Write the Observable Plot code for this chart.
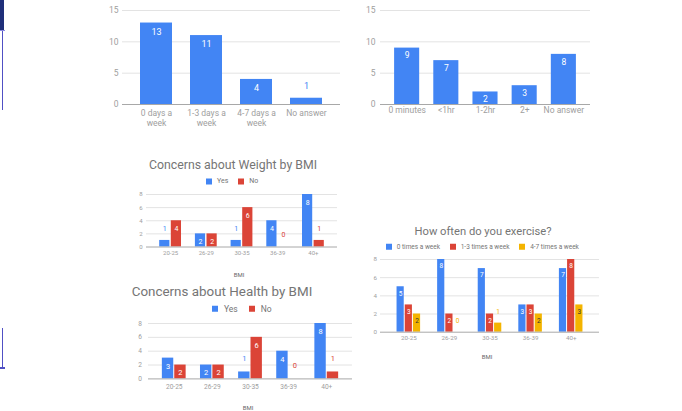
<!DOCTYPE html>
<html><head><meta charset="utf-8">
<script src="https://cdn.jsdelivr.net/npm/d3@7"></script>
<script src="https://cdn.jsdelivr.net/npm/@observablehq/plot@0.6"></script>
<style>
html,body{margin:0;padding:0;background:#fff;}
#page{position:relative;width:682px;height:411px;overflow:hidden;font-family:Roboto,"Liberation Sans",sans-serif;}
.abs{position:absolute;white-space:nowrap;transform:translate(-50%,-50%);line-height:1;}
.chart{position:absolute;}
.chart svg{overflow:visible;}
.leg{position:absolute;display:flex;align-items:center;white-space:nowrap;transform:translateY(-50%);line-height:1;color:#757575;}
.leg .sq{display:inline-block;width:6px;height:6px;}
.deco{position:absolute;}
</style></head><body><div id="page"></div>
<script>
// ---------- data ----------
const daysCategories = ["0 days a\nweek", "1-3 days a\nweek", "4-7 days a\nweek", "No answer"];
const daysValues = [13, 11, 4, 1];
const timeCategories = ["0 minutes", "<1hr", "1-2hr", "2+", "No answer"];
const timeValues = [9, 7, 2, 3, 8];
const bmiGroups = ["20-25", "26-29", "30-35", "36-39", "40+"];
const weightYes = [1, 2, 1, 4, 8];
const weightNo = [4, 2, 6, 0, 1];
const healthYes = [3, 2, 1, 4, 8];
const healthNo = [2, 2, 6, 0, 1];
const exercise0 = [5, 8, 7, 3, 7];
const exercise13 = [3, 2, 2, 3, 8];
const exercise47 = [2, 0, 1, 2, 3];
const overviewTicks = [0, 5, 10, 15];
const bmiTicks = [0, 2, 4, 6, 8];
const yesNoNames = ["Yes", "No"];
const exerciseNames = ["0 times a week", "1-3 times a week", "4-7 times a week"];

const BLUE = "#4285F4", RED = "#DB4437", YELLOW = "#F4B400";
const TICK = "#9e9e9e";
const page = document.getElementById("page");

function chart(cfg) {
  const mL = 30, mR = 10, mT = 10, mB = 30;
  const {frame, categories, series, domain, ticks, padding} = cfg;
  const W = frame.x1 - frame.x0, H = frame.y1 - frame.y0;
  const n = categories.length, k = series.length;
  const step = W / (n + padding), bw = step * (1 - padding), slot = bw / k;
  const gap = k > 1 ? cfg.gap : 0;
  const marks = [];
  marks.push(Plot.ruleY(ticks.filter(t => t !== 0), {stroke: "#e3e3e3", strokeWidth: 1}));
  series.forEach((s, i) => {
    const rows = categories.map((c, j) => ({cat: c, value: s.values[j]}));
    marks.push(Plot.barY(rows, {
      x: "cat", y: "value", fill: s.color,
      insetLeft: i * slot + gap / 2, insetRight: (k - 1 - i) * slot + gap / 2
    }));
  });
  marks.push(Plot.ruleY([0], {stroke: "#a8a8a8", strokeWidth: 1}));
  series.forEach((s, i) => {
    const rows = categories.map((c, j) => ({cat: c, value: s.values[j]}));
    const dx = (i - (k - 1) / 2) * slot;
    marks.push(Plot.text(rows.filter(r => r.value >= 2), {
      x: "cat", y: "value", text: r => String(r.value), dx, dy: cfg.inDy,
      fill: s.inside, fontSize: cfg.labelFont
    }));
    marks.push(Plot.text(rows.filter(r => r.value < 2), {
      x: "cat", y: "value", text: r => String(r.value), dx, dy: -cfg.outDy,
      fill: s.color, fontSize: cfg.labelFont
    }));
  });
  marks.push(Plot.text(ticks, {
    y: d => d, text: d => String(d), frameAnchor: "left", dx: -cfg.yPad,
    textAnchor: "end", fill: TICK, fontSize: cfg.tickFont
  }));
  const maxLines = d3.max(categories, c => c.split("\n").length);
  for (let L = 0; L < maxLines; L++) {
    marks.push(Plot.text(categories.filter(c => c.split("\n").length > L), {
      x: d => d, text: d => d.split("\n")[L], frameAnchor: "bottom",
      dy: cfg.xDy + L * (cfg.xLineGap || 0), fill: TICK, fontSize: cfg.tickFont
    }));
  }
  const svg = Plot.plot({
    width: W + mL + mR, height: H + mT + mB,
    marginLeft: mL, marginRight: mR, marginTop: mT, marginBottom: mB,
    style: {fontFamily: "Roboto, sans-serif", background: "transparent", overflow: "visible"},
    x: {domain: categories, padding, align: 0.5, round: false, axis: null},
    y: {domain, axis: null},
    marks
  });
  const div = document.createElement("div");
  div.className = "chart";
  div.style.left = (frame.x0 - mL) + "px";
  div.style.top = (frame.y0 - mT) + "px";
  div.appendChild(svg);
  page.appendChild(div);
}

function label(text, x, y, size, color) {
  const d = document.createElement("div");
  d.className = "abs";
  d.textContent = text;
  d.style.left = x + "px"; d.style.top = y + "px";
  d.style.fontSize = size + "px"; d.style.color = color;
  page.appendChild(d);
}

function legend(items, x, y, size, textGap, itemGap) {
  const d = document.createElement("div");
  d.className = "leg";
  d.style.left = x + "px"; d.style.top = y + "px"; d.style.fontSize = size + "px";
  items.forEach((it, i) => {
    const sq = document.createElement("span");
    sq.className = "sq"; sq.style.background = it.color;
    if (i > 0) sq.style.marginLeft = itemGap + "px";
    const t = document.createElement("span");
    t.textContent = it.name; t.style.marginLeft = textGap + "px";
    d.appendChild(sq); d.appendChild(t);
  });
  page.appendChild(d);
}

function deco(l, t, w, h, c) {
  const d = document.createElement("div");
  d.className = "deco";
  Object.assign(d.style, {left: l + "px", top: t + "px", width: w + "px", height: h + "px", background: c});
  page.appendChild(d);
}

// ---------- screenshot edge decorations ----------
deco(0, 0, 4, 30, "#1f2f7a");
deco(1.5, 30, 1.5, 80, "#5050c4");
deco(0, 29.5, 5, 1.5, "#8a8ae0");
deco(1.5, 328, 1.5, 40, "#5050c4");
deco(0, 367, 5, 1.5, "#5050c4");

// ---------- chart 1: days ----------
chart({
  frame: {x0: 122, x1: 340, y0: 10, y1: 104}, categories: daysCategories,
  series: [{values: daysValues, color: BLUE, inside: "#fff"}],
  domain: [0, 15], ticks: overviewTicks, padding: 0.36,
  tickFont: 8.5, yPad: 4, xDy: 11, xLineGap: 10.7, labelFont: 9, inDy: 9, outDy: 12.5
});

// ---------- chart 2: time ----------
chart({
  frame: {x0: 380, x1: 590, y0: 10, y1: 104}, categories: timeCategories,
  series: [{values: timeValues, color: BLUE, inside: "#fff"}],
  domain: [0, 15], ticks: overviewTicks, padding: 0.36,
  tickFont: 8.5, yPad: 5, xDy: 8.7, labelFont: 8.5, inDy: 7.5, outDy: 12
});

// ---------- chart 3: weight by BMI ----------
label("Concerns about Weight by BMI", 233, 165, 12.3, "#757575");
legend(yesNoNames.map((n, i) => ({name: n, color: [BLUE, RED][i]})), 206, 181, 7, 5, 10);
chart({
  frame: {x0: 146, x1: 337, y0: 194, y1: 246.5}, categories: bmiGroups,
  series: [{values: weightYes, color: BLUE, inside: "#fff"}, {values: weightNo, color: RED, inside: "#fff"}],
  domain: [0, 8], ticks: bmiTicks, padding: 0.35, gap: 1.4,
  tickFont: 6, yPad: 4, xDy: 7.8, labelFont: 7, inDy: 8, outDy: 12
});
label("BMI", 239, 275, 6, "#666");

// ---------- chart 4: health by BMI ----------
label("Concerns about Health by BMI", 222, 292, 13.4, "#757575");
legend(yesNoNames.map((n, i) => ({name: n, color: [BLUE, RED][i]})), 212, 309, 8.5, 6, 11);
chart({
  frame: {x0: 148, x1: 352, y0: 323.3, y1: 378.7}, categories: bmiGroups,
  series: [{values: healthYes, color: BLUE, inside: "#fff"}, {values: healthNo, color: RED, inside: "#fff"}],
  domain: [0, 8], ticks: bmiTicks, padding: 0.35, gap: 1,
  tickFont: 6.6, yPad: 6.5, xDy: 10.3, labelFont: 7.5, inDy: 8, outDy: 13.5
});
label("BMI", 248, 408, 6, "#666");

// ---------- chart 5: exercise ----------
label("How often do you exercise?", 483, 232, 11.2, "#757575");
legend(exerciseNames.map((n, i) => ({name: n, color: [BLUE, RED, YELLOW][i]})), 386, 247, 6.5, 4.7, 10);
chart({
  frame: {x0: 380, x1: 599, y0: 259.3, y1: 332}, categories: bmiGroups,
  series: [
    {values: exercise0, color: BLUE, inside: "#fff"},
    {values: exercise13, color: RED, inside: "#fff"},
    {values: exercise47, color: YELLOW, inside: "#333"}
  ],
  domain: [0, 8], ticks: bmiTicks, padding: 0.395, gap: 1,
  tickFont: 6.2, yPad: 3.5, xDy: 8, labelFont: 6.5, inDy: 6.7, outDy: 11.5
});
label("BMI", 487, 357, 6, "#666");
</script>
</body></html>
